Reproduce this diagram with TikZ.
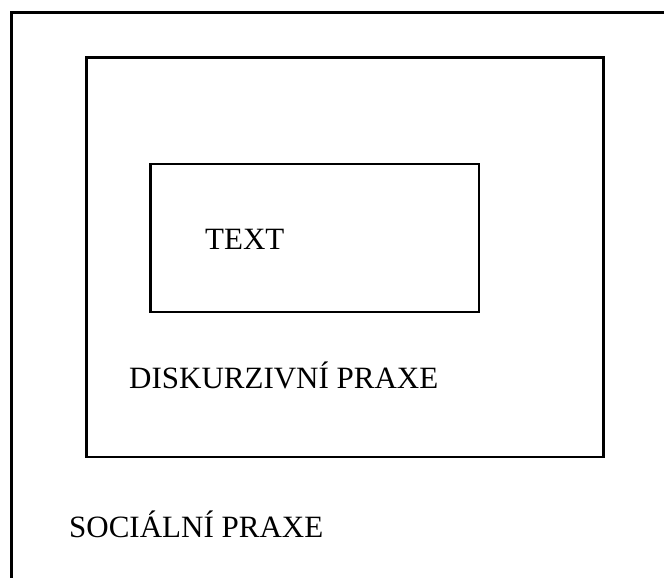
\documentclass[tikz,border=0pt]{standalone}
\usepackage{fontspec}
\setmainfont{Liberation Serif}
\usepackage{tikz}

\begin{document}
\begin{tikzpicture}[x=0.5pt,y=-0.5pt,line width=1.2pt]
\useasboundingbox (0,0) rectangle (664,578);
\clip (0,0) rectangle (664,578);
\tikzset{label/.style={anchor=base west,inner sep=0pt,font=\fontsize{15.5}{18}\selectfont}}
% Social practice (outer frame)
\draw (11.5,12.5) rectangle (700,620);
\node[label] (socialni) at (68,537) {SOCIÁLNÍ PRAXE};

% Discursive practice
\draw (86.5,57.5) rectangle (603.5,457);
\node[label] (diskurzivni) at (128,388) {DISKURZIVNÍ PRAXE};

% Text
\draw (150.5,164) rectangle (479,312);
\node[label] (text) at (204,249) {TEXT};
\end{tikzpicture}
\end{document}
